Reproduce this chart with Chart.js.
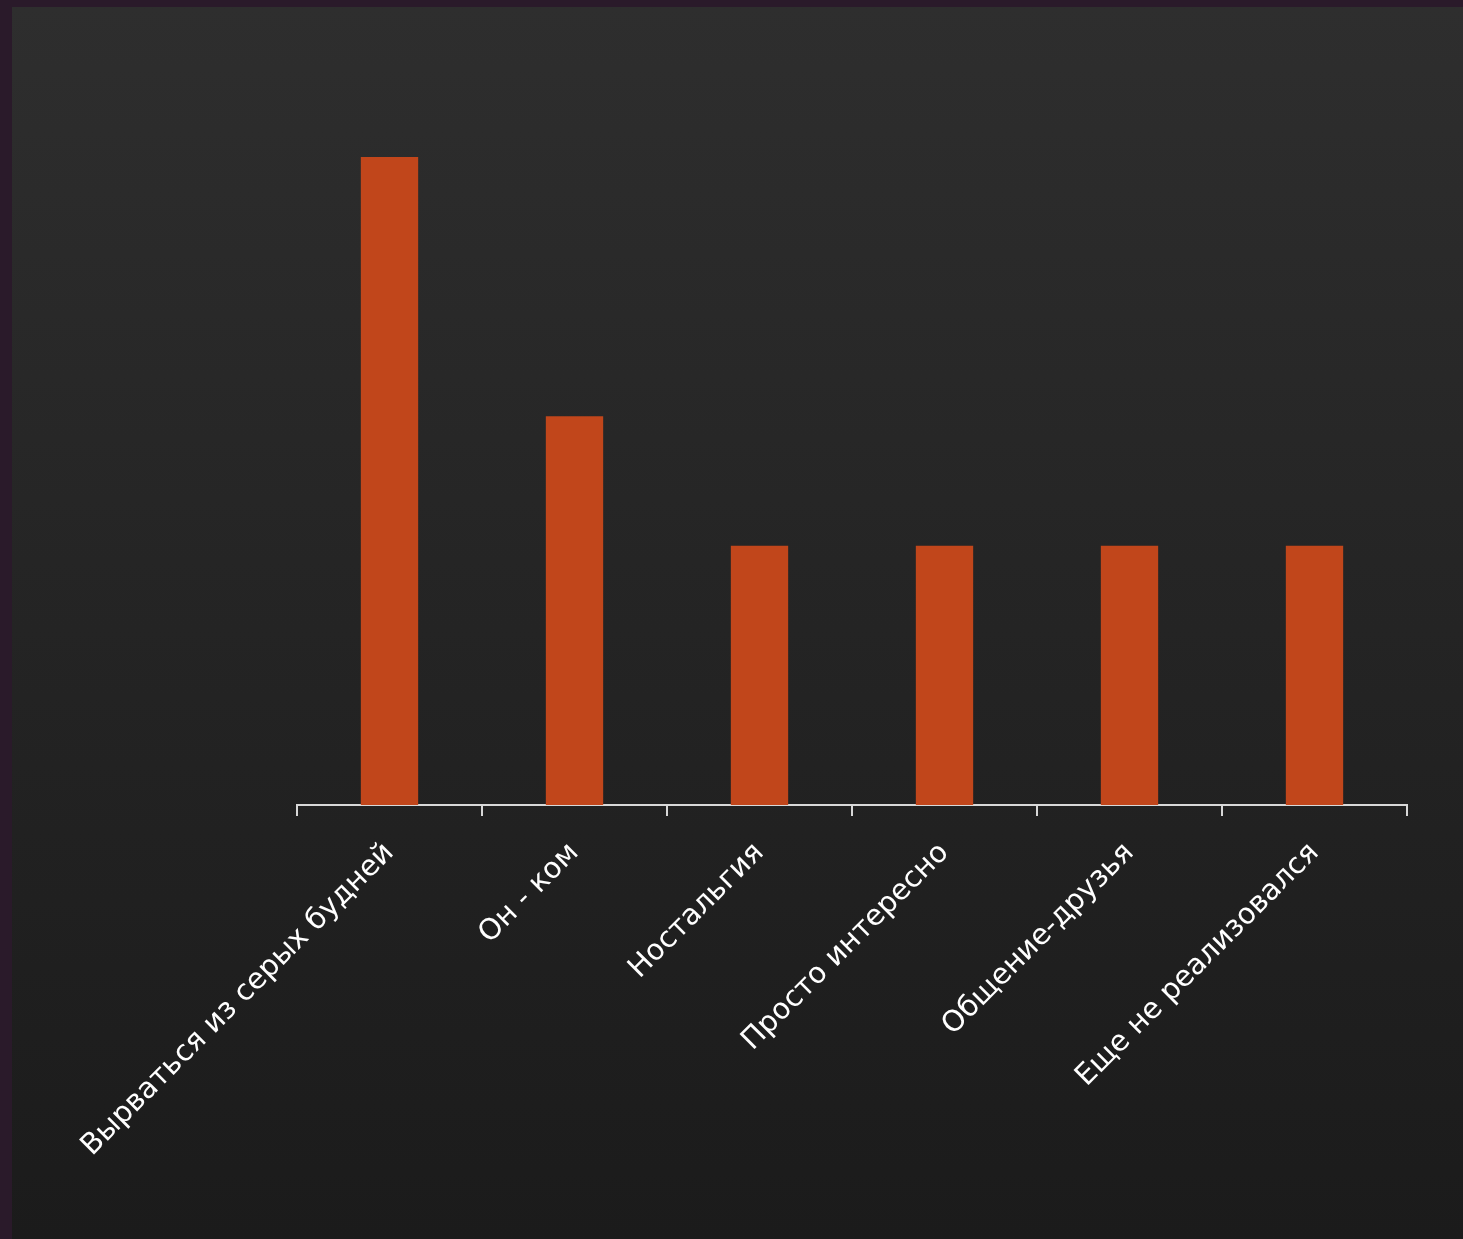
<!DOCTYPE html>
<html><head><meta charset="utf-8">
<script src="https://cdn.jsdelivr.net/npm/chart.js@4"></script>
<style>
html,body{margin:0;padding:0;width:1463px;height:1239px;overflow:hidden;background:#2a1a2a;}
#bg{position:absolute;left:12px;top:7px;width:1451px;height:1232px;background:linear-gradient(#2e2e2e 0%,#252525 45%,#1b1b1b 100%);}
#wrap{position:absolute;left:0;top:0;width:1463px;height:1239px;}
</style></head>
<body><div id="bg"></div><div id="wrap"><canvas id="c"></canvas></div>
<script>
const categories = ["Вырваться из серых будней","Он - ком","Ностальгия","Просто интересно","Общение-друзья","Еще не реализовался"];
const values = [5,3,2,2,2,2];
new Chart(document.getElementById('c'),{
  type:'bar',
  data:{labels:categories,datasets:[{data:values,backgroundColor:'#c1461b',barPercentage:0.62,categoryPercentage:0.5}]},
  options:{
    responsive:true,maintainAspectRatio:false,animation:false,
    layout:{padding:{left:297,right:56,top:157,bottom:0}},
    plugins:{legend:{display:false},tooltip:{enabled:false}},
    scales:{
      x:{
        grid:{display:true,drawOnChartArea:false,offset:true,color:'#d8d8d8',lineWidth:2,tickLength:11},
        border:{display:true,color:'#d8d8d8',width:2},
        ticks:{color:'#ffffff',font:{family:'DejaVu Sans',size:29},minRotation:45,maxRotation:45,padding:20,autoSkip:false},
        afterFit:s=>{s.height=434;s.paddingLeft=0;s.paddingRight=0;}
      },
      y:{display:false,min:0,max:5}
    }
  }
});
</script></body></html>
